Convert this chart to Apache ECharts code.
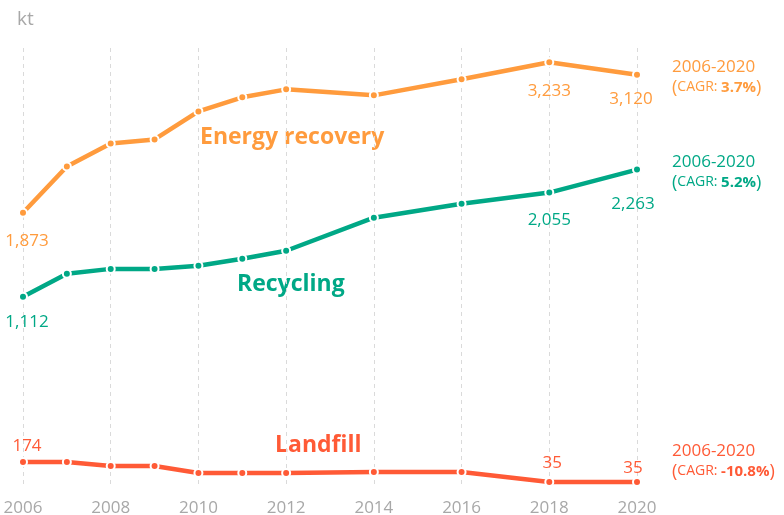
<!DOCTYPE html>
<html>
<head>
<meta charset="utf-8">
<title>Waste treatment, 2006-2020</title>
<script src="https://cdn.jsdelivr.net/npm/echarts@6/dist/echarts.min.js"></script>
<style>
  html, body { margin: 0; padding: 0; background: #fff; }
  #chart { width: 784px; height: 515px; }
</style>
</head>
<body>
<div id="chart"></div>
<script>
// Years with observations (annual to 2012, then every two years)
const years = [2006, 2007, 2008, 2009, 2010, 2011, 2012, 2014, 2016, 2018, 2020];

// Treated volumes, kt
const energyRecovery = [1873, 2290, 2498, 2535, 2789, 2916, 2988, 2934, 3079, 3233, 3120];
const recycling      = [1112, 1320, 1365, 1365, 1393, 1456, 1529, 1828, 1954, 2055, 2263];
const landfill       = [174, 174, 146, 146, 97, 97, 97, 104, 104, 35, 35];

// Axis ticks
const xTicks = [2006, 2008, 2010, 2012, 2014, 2016, 2018, 2020];

// Compound annual growth 2006-2020
const cagrEnergy = '3.7%';
const cagrRecycling = '5.2%';
const cagrLandfill = '-10.8%';

const COLORS = { energy: '#FF9B3D', recycling: '#00A886', landfill: '#FF5A36' };
const FONT = '"Open Sans", "Noto Sans", sans-serif';

// Where value labels sit relative to their point: [dx, dy]
const labelOffsets = {
  energy:    { 2006: [4, 28], 2018: [0, 29], 2020: [-6, 24] },
  recycling: { 2006: [4, 25], 2018: [0, 28], 2020: [-4, 35] },
  landfill:  { 2006: [4, -16], 2018: [3, -19], 2020: [-4, -14] }
};

function buildData(values, key) {
  return years.map((yr, i) => {
    const off = labelOffsets[key][yr];
    const item = { value: [yr, values[i]] };
    if (off) {
      item.label = {
        show: true,
        position: 'inside',
        offset: off,
        color: COLORS[key],
        fontFamily: FONT,
        fontSize: 17,
        formatter: p => p.value[1].toLocaleString('en-US')
      };
    }
    return item;
  });
}

function lineSeries(name, values, key, yAxisIndex) {
  return {
    name: name,
    type: 'line',
    yAxisIndex: yAxisIndex,
    data: buildData(values, key),
    symbol: 'circle',
    symbolSize: 8,
    showAllSymbol: true,
    lineStyle: { color: COLORS[key], width: 4.5 },
    itemStyle: { color: COLORS[key], borderColor: '#fff', borderWidth: 2 },
    label: { show: false },
    emphasis: { disabled: true },
    z: 3
  };
}

function cagrText(color, cagr) {
  return {
    style: {
      text: '{a|2006-2020}\n{p|(}{c|CAGR: }{b|' + cagr + '}{p|)}',
      fill: color,
      fontFamily: FONT,
      rich: {
        a: { fontSize: 17, fontFamily: FONT, fill: color, lineHeight: 20 },
        p: { fontSize: 18, fontFamily: FONT, fill: color, lineHeight: 20 },
        c: { fontSize: 14, fontFamily: FONT, fill: color, lineHeight: 20 },
        b: { fontSize: 15, fontWeight: 'bold', fontFamily: FONT, fill: color, lineHeight: 20 }
      }
    }
  };
}

const chart = echarts.init(document.getElementById('chart'), null, { renderer: 'canvas' });

chart.setOption({
  animation: false,
  backgroundColor: '#fff',
  grid: { left: 23, right: 147, top: 48, bottom: 28, containLabel: false, outerBoundsMode: 'none' },
  xAxis: {
    type: 'value',
    min: 2006,
    max: 2020,
    interval: 2,
    axisLine: { show: false },
    axisTick: { show: false },
    axisLabel: {
      color: '#A8A8A8',
      fontFamily: FONT,
      fontSize: 17,
      margin: 13,
      customValues: xTicks,
      formatter: v => String(v)
    },
    splitLine: { show: true, lineStyle: { color: '#DADADA', type: [4, 4], width: 1 } }
  },
  yAxis: [
    { type: 'value', min: -607, max: 3362, show: false, splitLine: { show: false } },
    { type: 'value', min: 0, max: 3050, show: false, splitLine: { show: false } }
  ],
  series: [
    lineSeries('Energy recovery', energyRecovery, 'energy', 0),
    lineSeries('Recycling', recycling, 'recycling', 0),
    lineSeries('Landfill', landfill, 'landfill', 1)
  ],
  graphic: [
    { type: 'text', left: 17, top: 10,
      style: { text: 'kt', fill: '#A8A8A8', fontFamily: FONT, fontSize: 19 } },
    { type: 'text', left: 200, top: 126,
      style: { text: 'Energy recovery', fill: COLORS.energy, fontFamily: FONT, fontSize: 23, fontWeight: 'bold' } },
    { type: 'text', left: 237, top: 273,
      style: { text: 'Recycling', fill: COLORS.recycling, fontFamily: FONT, fontSize: 23, fontWeight: 'bold' } },
    { type: 'text', left: 275, top: 434,
      style: { text: 'Landfill', fill: COLORS.landfill, fontFamily: FONT, fontSize: 23, fontWeight: 'bold' } },
    Object.assign({ type: 'text', left: 672, top: 59 }, cagrText(COLORS.energy, cagrEnergy)),
    Object.assign({ type: 'text', left: 672, top: 154 }, cagrText(COLORS.recycling, cagrRecycling)),
    Object.assign({ type: 'text', left: 672, top: 443 }, cagrText(COLORS.landfill, cagrLandfill))
  ]
});
</script>
</body>
</html>
